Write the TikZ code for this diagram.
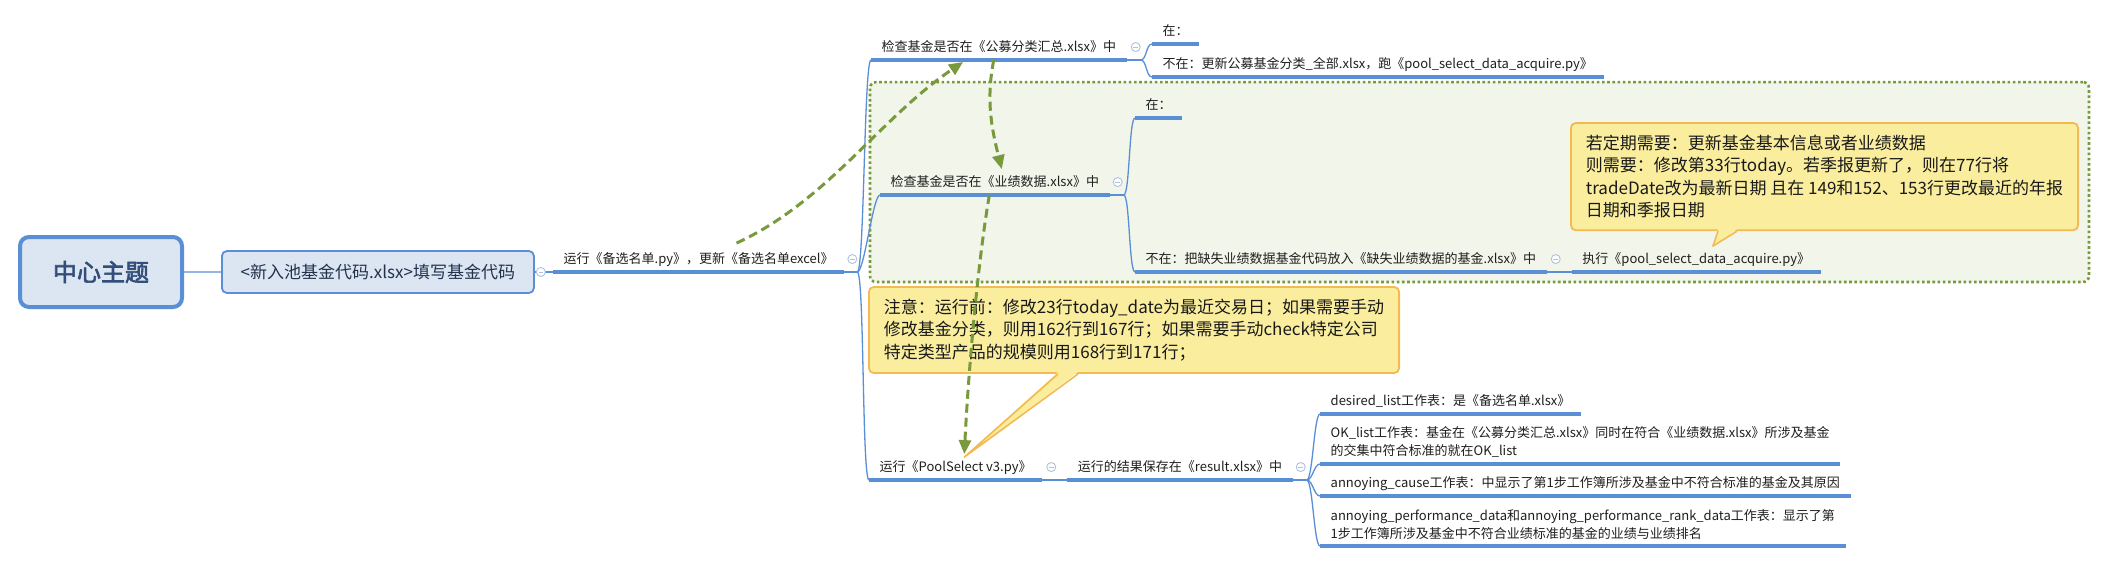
\documentclass[tikz,border=0pt]{standalone}
\usepackage{fontspec}
\setmainfont{Noto Sans CJK SC}[AutoFakeBold=2.5]
\usetikzlibrary{arrows.meta,positioning,calc,fit,backgrounds}

\definecolor{linkblue}{HTML}{5A8FD6}
\definecolor{nodefill}{HTML}{DCE6F2}
\definecolor{foldgray}{HTML}{AEC2DF}
\definecolor{titleblue}{HTML}{334E7A}
\definecolor{entrytext}{HTML}{22324D}
\definecolor{relgreen}{HTML}{789A3C}
\definecolor{groupfill}{HTML}{F2F5EA}
\definecolor{notefill}{HTML}{FAEE9E}
\definecolor{noteline}{HTML}{F3BA52}

\begin{document}
\begin{tikzpicture}[
  x=1pt, y=-1pt,
  font=\fontsize{13}{18}\selectfont,
  rootbox/.style={draw=linkblue, line width=4pt, rounded corners=9pt, fill=nodefill,
              minimum width=162pt, minimum height=70pt, text=titleblue,
              font=\fontsize{24}{28}\selectfont\bfseries},
  mainbox/.style={draw=linkblue, line width=1.8pt, rounded corners=5pt, fill=nodefill,
              minimum width=312pt, minimum height=42pt, text=entrytext,
              font=\fontsize{17}{20}\selectfont},
  longtopic/.style={anchor=south west, align=left, inner xsep=10.5pt, inner ysep=6pt, text=black!88},
  topic/.style={longtopic, text height=11.5pt, text depth=2pt},
  uline/.style={linkblue, line width=3.5pt},
  link/.style={linkblue, line width=1.3pt},
  rootlink/.style={linkblue!65, line width=2pt},
  fold/.style={circle, draw=foldgray, fill=white, line width=0.9pt, minimum size=9pt, inner sep=0pt,
              path picture={\draw[foldgray, line width=0.9pt]
                ([xshift=-2.3pt]path picture bounding box.center) -- ([xshift=2.3pt]path picture bounding box.center);}},
  group/.style={draw=relgreen, fill=groupfill, line width=2.6pt, dash pattern=on 2.6pt off 2.6pt,
              rounded corners=6pt, inner sep=10pt},
  note/.style={draw=noteline, fill=notefill, line width=1.8pt, rounded corners=5pt, align=left,
              anchor=north west, inner xsep=15pt, inner ysep=12pt, text=black!90,
              font=\fontsize{17}{22.5}\selectfont},
  pointer/.style={noteline, line width=1.6pt, line join=round},
  rel/.style={relgreen, line width=3pt, dash pattern=on 9pt off 5pt,
              -{Triangle[length=14pt, width=12pt]}},
]
\useasboundingbox (0,0) rectangle (2113,563);

%% ---------- root and first topic ----------
\node[rootbox] (root) at (101,272) {中心主题};
\node[mainbox, right=37pt of root] (entry) {<新入池基金代码.xlsx>填写基金代码};

\node[topic] (upd) at (553,272) {运行《备选名单.py》，更新《备选名单excel》};

%% ---------- three checks / runs ----------
\node[topic] (chk1) at (871,60) {检查基金是否在《公募分类汇总.xlsx》中};
\node[topic] (chk2) at (880,195) {检查基金是否在《业绩数据.xlsx》中};
\node[topic] (run) at (869,480) {运行《PoolSelect v3.py》};

\node[topic] (in1) at (1152,44) {在：};
\node[topic] (out1) at (1152,77) {不在：更新公募基金分类\_全部.xlsx，跑《pool\_select\_data\_acquire.py》};
\node[topic] (in2) at (1135,118) {在：};
\node[topic] (out2) at (1135,272) {不在：把缺失业绩数据基金代码放入《缺失业绩数据的基金.xlsx》中};
\node[topic] (exec) at ([xshift=25pt]out2.south east) {执行《pool\_select\_data\_acquire.py》};
\node[topic] (res) at ([xshift=25pt]run.south east) {运行的结果保存在《result.xlsx》中};

%% ---------- sheets of result.xlsx ----------
\node[topic] (desired) at (1320,414) {desired\_list工作表：是《备选名单.xlsx》};
\node[longtopic] (oklist) at (1320,464)
  {OK\_list工作表：基金在《公募分类汇总.xlsx》同时在符合《业绩数据.xlsx》所涉及基金\\的交集中符合标准的就在OK\_list};
\node[topic] (cause) at (1320,496) {annoying\_cause工作表：中显示了第1步工作簿所涉及基金中不符合标准的基金及其原因};
\node[longtopic] (perf) at (1320,546)
  {annoying\_performance\_data和annoying\_performance\_rank\_data工作表：显示了第\\1步工作簿所涉及基金中不符合业绩标准的基金的业绩与业绩排名};

%% ---------- branch lines ----------
\draw[rootlink] (root) -- (entry);
\draw[link] (entry.east) -- (upd.south west);

\draw[link] (upd.south east) -- ++(13,0) coordinate (hub1);
\foreach \c in {chk1,chk2,run}
  \draw[link] (hub1) .. controls +(7,0) and +(-7,0) .. (\c.south west);

\draw[link] (chk1.south east) -- ++(14,0) coordinate (hub2);
\foreach \c in {in1,out1}
  \draw[link] (hub2) .. controls +(6,0) and +(-6,0) .. (\c.south west);

\draw[link] (chk2.south east) -- ++(14,0) coordinate (hub3);
\foreach \c in {in2,out2}
  \draw[link] (hub3) .. controls +(6,0) and +(-6,0) .. (\c.south west);

\draw[link] (out2.south east) -- (exec.south west);
\draw[link] (run.south east) -- (res.south west);

\draw[link] (res.south east) -- ++(14,0) coordinate (hub4);
\foreach \c in {desired,oklist,cause,perf}
  \draw[link] (hub4) .. controls +(6,0) and +(-6,0) .. (\c.south west);

\foreach \n in {upd,chk1,chk2,run,in1,out1,in2,out2,exec,res,desired,oklist,cause,perf}
  \draw[uline] (\n.south west) -- (\n.south east);

% collapse markers
\node[fold] (fold-entry) at ([xshift=6pt]entry.east) {};
\foreach \n/\d in {upd/8,chk1/9,chk2/8,out2/9,run/9,res/8}
  \node[fold] (fold-\n) at ([xshift=\d pt]\n.east) {};

%% ---------- callouts ----------
\node[note] (note1) at (868,286)
  {注意：运行前：修改23行today\_date为最近交易日；如果需要手动\\修改基金分类，则用162行到167行；如果需要手动check特定公司\\特定类型产品的规模则用168行到171行；};
\node[note] (note2) at (1570,122)
  {若定期需要：更新基金基本信息或者业绩数据\\则需要：修改第33行today。若季报更新了，则在77行将\\tradeDate改为最新日期 且在 149和152、153行更改最近的年报\\日期和季报日期};

\coordinate (tip1) at ($(run.north west)!0.55!(run.north east)+(0,3)$);
\fill[notefill] ([xshift=190pt,yshift=2pt]note1.south west) -- (tip1) -- ([xshift=210pt,yshift=2pt]note1.south west) -- cycle;
\draw[pointer] ([xshift=190pt]note1.south west) -- (tip1) -- ([xshift=210pt]note1.south west);

\coordinate (tip2) at ($(exec.north west)!0.567!(exec.north east)$);
\fill[notefill] ([xshift=148pt,yshift=2pt]note2.south west) -- (tip2) -- ([xshift=167pt,yshift=2pt]note2.south west) -- cycle;
\draw[pointer] ([xshift=148pt]note2.south west) -- (tip2) -- ([xshift=167pt]note2.south west);

%% ---------- relationship arrows ----------
\draw[rel] ($(upd.north west)!0.63!(upd.north east)+(0,-3)$)
  .. controls +(91,-42) and +(-83,56) .. ($(chk1.south west)!0.36!(chk1.south east)+(0,2)$);
\draw[rel] ($(chk1.south west)!0.48!(chk1.south east)$)
  .. controls +(-8,40) and +(-10,-40) .. ($(chk2.north west)!0.53!(chk2.north east)$);
\draw[rel] ($(chk2.south west)!0.476!(chk2.south east)$)
  .. controls +(-12,70) and +(4,-80) .. ($(run.north west)!0.55!(run.north east)$);

%% ---------- background and group ----------
\begin{scope}[on background layer]
  \fill[white] (0,0) rectangle (2113,563);
  \node[group, fit=(chk2)(in2)(out2)(exec)(note2)] (perfgroup) {};
\end{scope}
\end{tikzpicture}
\end{document}
